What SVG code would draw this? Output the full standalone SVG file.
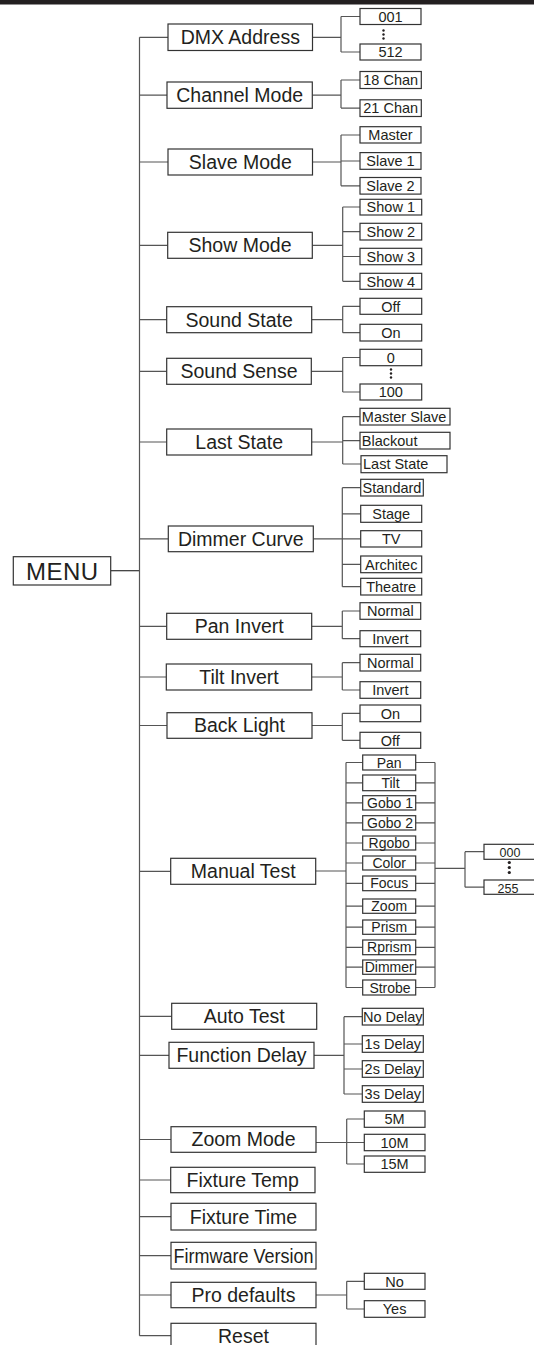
<svg xmlns="http://www.w3.org/2000/svg" width="534" height="1345" viewBox="0 0 534 1345">
<style>
.b{fill:#fff;stroke:#333;stroke-width:1.2}
.t{font-family:"Liberation Sans",Arial,sans-serif;fill:#231f20;text-anchor:middle}
.L{font-size:19.5px}
.S{font-size:14.5px}
.M{font-size:14px}
.st{text-anchor:start}
.c{fill:none;stroke:#555;stroke-width:1.2}
.d{fill:#231f20}
</style>
<rect x="0" y="0" width="534" height="4.5" fill="#231f20"/>
<g id="connectors">
<path class="c" d="M110.7 570.7H139.5" stroke-width="2" style="stroke:#333"/>
<path class="c" d="M139.5 37.3V1335.7M139.5 37.3H168M139.5 95.2H167M139.5 162H168M139.5 245.3H167.7M139.5 319.7H166.7M139.5 371.3H166.7M139.5 442H166.7M139.5 538.9H168.3M139.5 626.3H166.7M139.5 677H166.3M139.5 725.5H167M139.5 871.3H170.7M139.5 1016.3H171.7M139.5 1055.3H169M139.5 1139.5H171M139.5 1180H170.7M139.5 1216.7H171M139.5 1255.7H171M139.5 1295H171M139.5 1335.7H171"/>
<path class="c" d="M312.5 37.3H341M341 16.5V52M341 16.5H360M341 52H360"/>
<path class="c" d="M312.3 95.2H341M341 80V108.1M341 80H360M341 108.1H360"/>
<path class="c" d="M312.5 162H341M341 135V185.8M341 135H360M341 161H360M341 185.8H360"/>
<path class="c" d="M312.3 245.3H342.7M342.7 207V281.3M342.7 207H360M342.7 231.7H360M342.7 256.5H360M342.7 281.3H360"/>
<path class="c" d="M311.7 319.7H342.7M342.7 306.3V332.7M342.7 306.3H360M342.7 332.7H360"/>
<path class="c" d="M311.3 371.3H342.7M342.7 357.5V392M342.7 357.5H360M342.7 392H360"/>
<path class="c" d="M311.7 442H342.7M342.7 416.7V464M342.7 416.7H360M342.7 440.7H360M342.7 464H361"/>
<path class="c" d="M313.3 538.9H342.3M342.3 487.7V586.7M342.3 487.7H360.7M342.3 513.8H360.7M342.3 538.8H360.7M342.3 564.3H360.7M342.3 586.7H360.7"/>
<path class="c" d="M311.7 626.3H342.3M342.3 611V638.7M342.3 611H360M342.3 638.7H360"/>
<path class="c" d="M311.7 677H342.3M342.3 662.7V690M342.3 662.7H360M342.3 690H360"/>
<path class="c" d="M312 725.5H342.3M342.3 713.3V740.3M342.3 713.3H360M342.3 740.3H360"/>
<path class="c" d="M315.7 871H346M346 762.5V987.5M435 762.5V987.5M346 762.5H362.7M346 782.8H362.7M346 802.8H362.7M346 822.8H362.7M346 843H362.7M346 863H362.7M346 883.3H362.7M346 906.2H362.7M346 927.2H362.7M346 947.3H362.7M346 967.2H362.7M346 987.5H362.7M415.7 762.5H435M415.7 782.8H435M415.7 802.8H435M415.7 822.8H435M415.7 843H435M415.7 863H435M415.7 883.3H435M415.7 906.2H435M415.7 927.2H435M415.7 947.3H435M415.7 967.2H435M415.7 987.5H435M435 868.3H465M465 851.7V887.2M465 851.7H484M465 887.2H484"/>
<path class="c" d="M314 1055.3H344M344 1016.7V1094M344 1016.7H362.3M344 1044H362.3M344 1069H362.3M344 1094H362.3"/>
<path class="c" d="M316 1142.5H364.3M346.7 1119V1164M346.7 1119H364.3M346.7 1164H364.3"/>
<path class="c" d="M316 1295H346.7M346.7 1281.3V1309M346.7 1281.3H364.3M346.7 1309H364.3"/>
</g>
<g id="menu"><rect class="b" x="13.3" y="556.7" width="97.4" height="28.3"/><text class="t" x="62" y="580" font-size="24" textLength="72" lengthAdjust="spacing">MENU</text></g>
<g id="dmx-address"><rect class="b" x="168" y="24" width="144.5" height="26.5"/><text class="t L" x="240.3" y="44.1">DMX Address</text></g>
<g id="dmx-001"><rect class="b" x="360" y="8.5" width="61" height="16"/><text class="t S" x="390.5" y="21.7">001</text></g>
<g id="dmx-dots"><circle class="d" cx="383.5" cy="30.5" r="1.2"/><circle class="d" cx="383.5" cy="34.5" r="1.2"/><circle class="d" cx="383.5" cy="38.5" r="1.2"/></g>
<g id="dmx-512"><rect class="b" x="360" y="44" width="61" height="16"/><text class="t S" x="390.5" y="57.2">512</text></g>
<g id="channel-mode"><rect class="b" x="167" y="82" width="145.3" height="26.3"/><text class="t L" x="239.7" y="102">Channel Mode</text></g>
<g id="chan-18"><rect class="b" x="360" y="71.5" width="61.3" height="17"/><text class="t S" x="390.7" y="85.2">18 Chan</text></g>
<g id="chan-21"><rect class="b" x="360" y="99.8" width="61.3" height="16.7"/><text class="t S" x="390.7" y="113.3">21 Chan</text></g>
<g id="slave-mode"><rect class="b" x="168" y="149" width="144.5" height="26"/><text class="t L" x="240.3" y="168.8">Slave Mode</text></g>
<g id="slave-master"><rect class="b" x="360" y="126.7" width="61" height="16.3"/><text class="t S" x="390.5" y="140.1">Master</text></g>
<g id="slave-1"><rect class="b" x="360" y="152.6" width="61" height="16.7"/><text class="t S" x="390.5" y="166.2">Slave 1</text></g>
<g id="slave-2"><rect class="b" x="360" y="177.5" width="61" height="16.6"/><text class="t S" x="390.5" y="191">Slave 2</text></g>
<g id="show-mode"><rect class="b" x="167.7" y="232.3" width="144.6" height="26"/><text class="t L" x="240" y="252.1">Show Mode</text></g>
<g id="show-1"><rect class="b" x="360" y="199.3" width="61.7" height="15.7"/><text class="t S" x="390.8" y="212.3">Show 1</text></g>
<g id="show-2"><rect class="b" x="360" y="223.3" width="61.7" height="16.7"/><text class="t S" x="390.8" y="236.9">Show 2</text></g>
<g id="show-3"><rect class="b" x="360" y="248.3" width="61.7" height="16.4"/><text class="t S" x="390.8" y="261.7">Show 3</text></g>
<g id="show-4"><rect class="b" x="360" y="273.3" width="61.7" height="16"/><text class="t S" x="390.8" y="286.5">Show 4</text></g>
<g id="sound-state"><rect class="b" x="166.7" y="306.7" width="145" height="26"/><text class="t L" x="239.2" y="326.5">Sound State</text></g>
<g id="sound-off"><rect class="b" x="360" y="298.3" width="61.7" height="16"/><text class="t S" x="390.8" y="311.5">Off</text></g>
<g id="sound-on"><rect class="b" x="360" y="324.3" width="61.7" height="16.7"/><text class="t S" x="390.8" y="337.9">On</text></g>
<g id="sound-sense"><rect class="b" x="166.7" y="358.3" width="144.6" height="26"/><text class="t L" x="239" y="378.1">Sound Sense</text></g>
<g id="sense-0"><rect class="b" x="360" y="349.3" width="61.7" height="16.4"/><text class="t S" x="390.8" y="362.7">0</text></g>
<g id="sense-dots"><circle class="d" cx="391" cy="369.5" r="1.2"/><circle class="d" cx="391" cy="373.5" r="1.2"/><circle class="d" cx="391" cy="377.5" r="1.2"/></g>
<g id="sense-100"><rect class="b" x="360" y="384" width="61.7" height="16"/><text class="t S" x="390.8" y="397.2">100</text></g>
<g id="last-state"><rect class="b" x="166.7" y="429" width="145" height="26"/><text class="t L" x="239.2" y="448.8">Last State</text></g>
<g id="ls-master-slave"><rect class="b" x="360" y="408.3" width="90" height="16.7"/><text class="t S st" x="361.8" y="421.9">Master Slave</text></g>
<g id="ls-blackout"><rect class="b" x="360" y="432.3" width="90" height="16.7"/><text class="t S st" x="361.8" y="445.9">Blackout</text></g>
<g id="ls-last-state"><rect class="b" x="361" y="455.7" width="86" height="17"/><text class="t S st" x="363" y="469.4">Last State</text></g>
<g id="dimmer-curve"><rect class="b" x="168.3" y="526" width="145" height="25.7"/><text class="t L" x="240.8" y="545.7">Dimmer Curve</text></g>
<g id="dc-standard"><rect class="b" x="360.7" y="479.3" width="62.6" height="16.7"/><text class="t S" x="392" y="492.9">Standard</text></g>
<g id="dc-stage"><rect class="b" x="360.7" y="505.3" width="61" height="17"/><text class="t S" x="391.2" y="519">Stage</text></g>
<g id="dc-tv"><rect class="b" x="360.7" y="530.7" width="61" height="16.3"/><text class="t S" x="391.2" y="544">TV</text></g>
<g id="dc-architec"><rect class="b" x="360.7" y="556" width="61" height="16.7"/><text class="t S" x="391.2" y="569.5">Architec</text></g>
<g id="dc-theatre"><rect class="b" x="360.7" y="578.3" width="61" height="16.7"/><text class="t S" x="391.2" y="591.9">Theatre</text></g>
<g id="pan-invert"><rect class="b" x="166.7" y="613.3" width="145" height="26"/><text class="t L" x="239.2" y="633.1">Pan Invert</text></g>
<g id="pan-normal"><rect class="b" x="360" y="602.7" width="60.7" height="16.6"/><text class="t S" x="390.3" y="616.2">Normal</text></g>
<g id="pan-inv"><rect class="b" x="360" y="630.7" width="60.7" height="16"/><text class="t S" x="390.3" y="643.9">Invert</text></g>
<g id="tilt-invert"><rect class="b" x="166.3" y="664" width="145.4" height="26"/><text class="t L" x="239" y="683.8">Tilt Invert</text></g>
<g id="tilt-normal"><rect class="b" x="360" y="654.3" width="60.7" height="16.7"/><text class="t S" x="390.3" y="667.9">Normal</text></g>
<g id="tilt-inv"><rect class="b" x="360" y="681.7" width="60.7" height="16.6"/><text class="t S" x="390.3" y="695.2">Invert</text></g>
<g id="back-light"><rect class="b" x="167" y="712.7" width="145" height="25.6"/><text class="t L" x="239.5" y="732.3">Back Light</text></g>
<g id="bl-on"><rect class="b" x="360" y="705" width="60.7" height="16.7"/><text class="t S" x="390.3" y="718.5">On</text></g>
<g id="bl-off"><rect class="b" x="360" y="732.3" width="60.7" height="16"/><text class="t S" x="390.3" y="745.5">Off</text></g>
<g id="manual-test"><rect class="b" x="170.7" y="858.3" width="145" height="26"/><text class="t L" x="243.2" y="878.1">Manual Test</text></g>
<g id="mt-pan"><rect class="b" x="362.7" y="755" width="53" height="15"/><text class="t M" x="389.2" y="767.5">Pan</text></g>
<g id="mt-tilt"><rect class="b" x="362.7" y="775" width="53" height="15.7"/><text class="t M" x="390.5" y="787.8">Tilt</text></g>
<g id="mt-gobo1"><rect class="b" x="362.7" y="795.7" width="53" height="14.3"/><text class="t M" x="390" y="807.8">Gobo 1</text></g>
<g id="mt-gobo2"><rect class="b" x="362.7" y="815.7" width="53" height="14.3"/><text class="t M" x="390" y="827.8">Gobo 2</text></g>
<g id="mt-rgobo"><rect class="b" x="362.7" y="836" width="53" height="14"/><text class="t M" x="389.2" y="848">Rgobo</text></g>
<g id="mt-color"><rect class="b" x="362.7" y="856" width="53" height="14"/><text class="t M" x="389.2" y="868">Color</text></g>
<g id="mt-focus"><rect class="b" x="362.7" y="876" width="53" height="14.7"/><text class="t M" x="389.2" y="888.3">Focus</text></g>
<g id="mt-zoom"><rect class="b" x="362.7" y="899" width="53" height="14.3"/><text class="t M" x="389.2" y="911.2">Zoom</text></g>
<g id="mt-prism"><rect class="b" x="362.7" y="920" width="53" height="14.3"/><text class="t M" x="389.2" y="932.2">Prism</text></g>
<g id="mt-rprism"><rect class="b" x="362.7" y="940" width="53" height="14.7"/><text class="t M" x="389.2" y="952.3">Rprism</text></g>
<g id="mt-dimmer"><rect class="b" x="362.7" y="960" width="53" height="14.3"/><text class="t M" x="389.2" y="972.2">Dimmer</text></g>
<g id="mt-strobe"><rect class="b" x="362.7" y="980" width="53" height="15"/><text class="t M" x="390" y="992.5">Strobe</text></g>
<g id="mt-000"><rect class="b" x="484" y="844.3" width="56" height="15"/><text class="t" font-size="12.5" x="510" y="856.6">000</text></g>
<g id="mt-dots"><circle class="d" cx="509.3" cy="862.5" r="1.6"/><circle class="d" cx="509.3" cy="867.5" r="1.6"/><circle class="d" cx="509.3" cy="872.5" r="1.6"/></g>
<g id="mt-255"><rect class="b" x="484" y="880" width="56" height="14.3"/><text class="t" font-size="12.5" x="508" y="892.6">255</text></g>
<g id="auto-test"><rect class="b" x="171.7" y="1003.3" width="145" height="26"/><text class="t L" x="244.2" y="1023.1">Auto Test</text></g>
<g id="function-delay"><rect class="b" x="169" y="1042.3" width="145" height="26"/><text class="t L" x="241.5" y="1062.1">Function Delay</text></g>
<g id="fd-no"><rect class="b" x="362.3" y="1008.3" width="61" height="16.7"/><text class="t S" x="392.8" y="1021.9">No Delay</text></g>
<g id="fd-1s"><rect class="b" x="362.3" y="1035.7" width="61" height="16.6"/><text class="t S" x="392.8" y="1049.2">1s Delay</text></g>
<g id="fd-2s"><rect class="b" x="362.3" y="1060.7" width="61" height="16.6"/><text class="t S" x="392.8" y="1074.2">2s Delay</text></g>
<g id="fd-3s"><rect class="b" x="362.3" y="1085.7" width="61" height="16.6"/><text class="t S" x="392.8" y="1099.2">3s Delay</text></g>
<g id="zoom-mode"><rect class="b" x="171" y="1126.7" width="145" height="25.6"/><text class="t L" x="243.5" y="1146.3">Zoom Mode</text></g>
<g id="zm-5m"><rect class="b" x="364.3" y="1111" width="60.7" height="16.3"/><text class="t S" x="394.6" y="1124.3">5M</text></g>
<g id="zm-10m"><rect class="b" x="364.3" y="1134.3" width="60.7" height="16.4"/><text class="t S" x="394.6" y="1147.7">10M</text></g>
<g id="zm-15m"><rect class="b" x="364.3" y="1156" width="60.7" height="16.3"/><text class="t S" x="394.6" y="1169.3">15M</text></g>
<g id="fixture-temp"><rect class="b" x="170.7" y="1167.3" width="144.3" height="25.4"/><text class="t L" x="242.8" y="1186.8">Fixture Temp</text></g>
<g id="fixture-time"><rect class="b" x="171" y="1203.3" width="145" height="26.7"/><text class="t L" x="243.5" y="1223.5">Fixture Time</text></g>
<g id="firmware-version"><rect class="b" x="171" y="1242.3" width="145" height="26.7"/><text class="t L" x="243.5" y="1262.5" textLength="140" lengthAdjust="spacingAndGlyphs">Firmware Version</text></g>
<g id="pro-defaults"><rect class="b" x="171" y="1282.3" width="145" height="25.4"/><text class="t L" x="243.5" y="1301.8">Pro defaults</text></g>
<g id="pd-no"><rect class="b" x="364.3" y="1273.3" width="60.7" height="16"/><text class="t S" x="394.6" y="1286.5">No</text></g>
<g id="pd-yes"><rect class="b" x="364.3" y="1300.7" width="60.7" height="16.6"/><text class="t S" x="394.6" y="1314.2">Yes</text></g>
<g id="reset"><rect class="b" x="171" y="1323.3" width="145" height="30"/><text class="t L" x="243.5" y="1343.3">Reset</text></g>
</svg>
